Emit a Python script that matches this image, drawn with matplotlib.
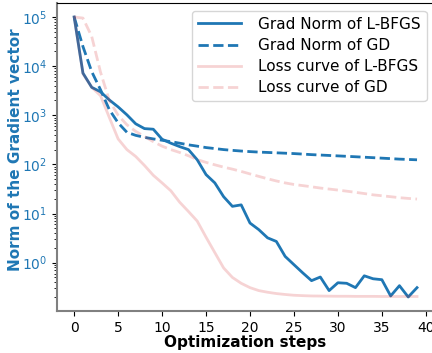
import numpy as np
import matplotlib
matplotlib.use("Agg")
import matplotlib.pyplot as plt

steps = np.arange(40)

# gradient norm, L-BFGS
grad_lbfgs = [1e5, 7200, 3700, 3000, 2050, 1480, 1020, 670, 535, 520,
              325, 270, 230, 200, 124, 62, 42, 22, 14, 15,
              6.4, 4.7, 3.2, 2.7, 1.34, 0.91, 0.62, 0.43, 0.51, 0.27,
              0.39, 0.38, 0.31, 0.54, 0.47, 0.45, 0.21, 0.34, 0.20, 0.31]

# gradient norm, GD
grad_gd = [1e5, 25000, 7700, 3300, 1300, 700, 450, 390, 355, 330,
           310, 290, 270, 250, 235, 220, 210, 200, 193, 187,
           182, 178, 175, 172, 169, 166, 162, 158, 155, 152,
           149, 146, 143, 140, 137, 134, 131, 128, 126, 124]

# loss, L-BFGS
loss_lbfgs = [1e5, 7000, 3700, 2500, 900, 330, 200, 145, 95, 60,
              42, 29, 17, 11, 7.0, 3.3, 1.6, 0.78, 0.5, 0.38,
              0.31, 0.27, 0.25, 0.235, 0.225, 0.217, 0.213, 0.21, 0.209, 0.208,
              0.207, 0.207, 0.206, 0.206, 0.206, 0.205, 0.205, 0.205, 0.205, 0.205]

# loss, GD
loss_gd = [1e5, 95000, 40000, 7500, 2000, 1000, 640, 470, 370, 290,
           235, 200, 175, 150, 125, 110, 98, 88, 80, 72,
           64, 57, 51, 46, 42, 39, 37, 35, 33, 31.5,
           30, 28.5, 27, 25.5, 24, 23, 22, 21, 20.3, 19.7]

blue = "tab:blue"

fig = plt.figure(figsize=(4.32, 3.53), dpi=100)
ax = fig.add_axes([0.132, 0.119, 0.873, 0.8725])

ax.plot(steps, grad_lbfgs, color=blue, lw=2, label="Grad Norm of L-BFGS")
ax.plot(steps, grad_gd, color=blue, lw=2, ls="--", label="Grad Norm of GD")
ax.plot(steps, loss_lbfgs, color="tab:red", alpha=0.2, lw=2, label="Loss curve of L-BFGS")
ax.plot(steps, loss_gd, color="tab:red", alpha=0.2, lw=2, ls="--", label="Loss curve of GD")

ax.set_yscale("log")
ax.set_xticks([0, 5, 10, 15, 20, 25, 30, 35, 40])
ax.set_xlabel("Optimization steps", fontsize=11, fontweight="bold", labelpad=0.5)
ax.set_ylabel("Norm of the Gradient vector", fontsize=11, fontweight="bold", color=blue)
ax.yaxis.set_label_coords(-0.09, 0.523)
ax.tick_params(axis="both", labelsize=10)
ax.tick_params(axis="y", which="both", labelcolor=blue)

for side in ["left", "bottom"]:
    ax.spines[side].set_color("#808080")
    ax.spines[side].set_linewidth(1.5)

ax.legend(loc="upper right", fontsize=11, handlelength=2.8, handletextpad=1.1,
          labelspacing=0.4)

fig.savefig("out.png", dpi=100)
